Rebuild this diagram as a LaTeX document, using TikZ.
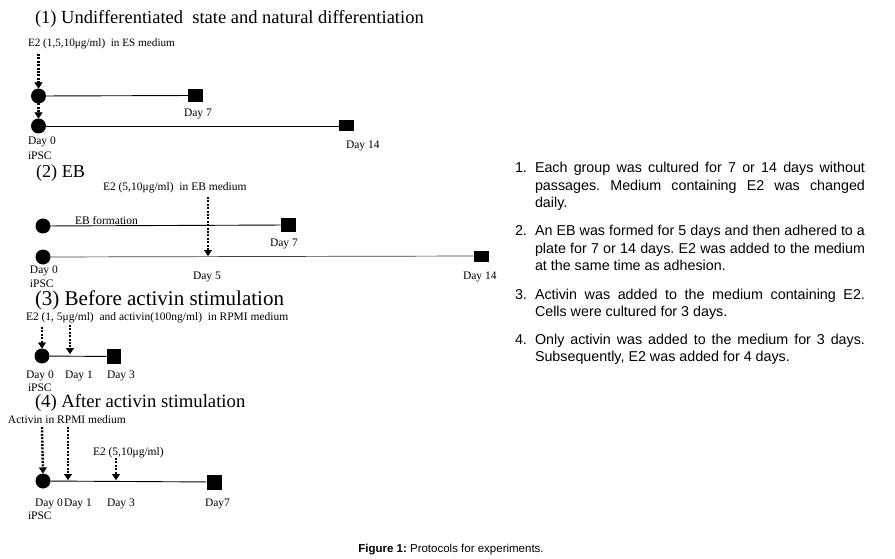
\documentclass[tikz,border=0pt]{standalone}
\usepackage{fontspec}
\setmainfont{Liberation Serif}
\newfontfamily\arialf{Liberation Sans}
\usetikzlibrary{arrows.meta}
\frenchspacing
\begin{document}
\begin{tikzpicture}[x=1pt,y=-1pt,
  every node/.style={inner sep=0pt, outer sep=0pt},
  lbl/.style={anchor=base west, font=\fontsize{11.5}{13}\selectfont},
  ttl/.style={anchor=base west},
  dot/.style={circle, fill=black, minimum size=15pt},
  endsq/.style={rectangle, fill=black, minimum width=15pt, minimum height=13pt},
  endsqb/.style={rectangle, fill=black, minimum width=15pt, minimum height=11pt},
  tline/.style={line width=0.9pt},
  tlinegray/.style={line width=0.7pt, black!75},
  darr/.style={line width=2.4pt, dash pattern=on 2pt off 1.4pt, -{Triangle[width=8pt,length=6pt,line width=0.4pt]}},
  item/.style={anchor=base west, text width=330pt, align=justify, font=\arialf\fontsize{14.3}{17.3}\selectfont},
  num/.style={anchor=base west, font=\arialf\fontsize{14.3}{17.3}\selectfont},
]
\fill[white] (0,0) rectangle (895,559);
\useasboundingbox (0,0) rectangle (895,559);

% ---------- Section 1
\node[ttl, font=\fontsize{18.5}{20}\selectfont] (t1) at (35,24) {(1) Undifferentiated~ state and natural differentiation};
\node[lbl, font=\fontsize{11.2}{13}\selectfont] (l1) at (28,47) {E2 (1,5,10μg/ml)~ in ES medium};
\coordinate (a1) at (38.5,54);
\node[dot] (c1a) at (38.5,96) {};
\node[endsq] (s1a) at (195.5,95.5) {};
\node[dot] (c1b) at (38.5,126) {};
\node[endsqb] (s1b) at (346,126) {};
\draw[tline] (c1a) -- (s1a);
\draw[tline] (c1b) -- (s1b);
\draw[darr] (a1) -- (c1a.north);
\draw[darr] (c1a.south) -- (c1b.north);
\node[lbl] (d1a) at (184,117) {Day 7};
\node[lbl] (d1b) at (28,145) {Day 0};
\node[lbl] (d1c) at (346,149) {Day 14};
\node[lbl] (p1) at (28,160) {iPSC};

% ---------- Section 2
\node[ttl, font=\fontsize{18.2}{20}\selectfont] (t2) at (36,178) {(2) EB};
\node[lbl] (l2) at (103,191) {E2 (5,10μg/ml)~ in EB medium};
\coordinate (a2) at (208,197);
\node[dot] (c2a) at (43,226) {};
\node[endsq] (s2a) at (288,225) {};
\node[dot] (c2b) at (43,257) {};
\node[endsqb] (s2b) at (481,256) {};
\coordinate (d5) at (208,256);
\draw[tline] (c2a) -- (s2a);
\draw[tlinegray] (c2b) -- (s2b);
\draw[darr] (a2) -- (d5);
\node[lbl] (eb) at (75,225) {EB formation};
\node[lbl] (d2a) at (270,247) {Day 7};
\node[lbl] (d2b) at (30,273) {Day 0};
\node[lbl] (d2c) at (193,279) {Day 5};
\node[lbl] (d2d) at (463,279) {Day 14};
\node[lbl] (p2) at (30,287) {iPSC};

% ---------- Section 3
\node[ttl, font=\fontsize{21}{23}\selectfont] (t3) at (35,305) {(3) Before activin stimulation};
\node[lbl] (l3) at (26,320) {E2 (1, 5μg/ml)~ and activin(100ng/ml)~ in RPMI medium};
\coordinate (a3a) at (42,327);
\coordinate (a3b) at (70,325);
\node[dot] (c3) at (42,356) {};
\node[endsq, minimum height=15pt, minimum width=14pt] (s3) at (113.5,356.5) {};
\coordinate (e3) at (70,354);
\draw[tline] (c3) -- (s3);
\draw[darr] (a3a) -- (c3.north);
\draw[darr] (a3b) -- (e3);
\node[lbl] (d3a) at (26,378) {Day 0};
\node[lbl] (d3b) at (65,378) {Day 1};
\node[lbl] (d3c) at (107,378) {Day 3};
\node[lbl] (p3) at (28,391) {iPSC};

% ---------- Section 4
\node[ttl, font=\fontsize{18.7}{20}\selectfont] (t4) at (35,407) {(4) After activin stimulation};
\node[lbl] (l4) at (8,423) {Activin in RPMI medium};
\node[lbl] (l5) at (93,455) {E2 (5,10μg/ml)};
\coordinate (a4a) at (42,427);
\coordinate (a4b) at (68,427);
\coordinate (a4c) at (116,458);
\node[dot] (c4) at (43,481) {};
\node[endsq, minimum height=15pt, minimum width=15pt] (s4) at (214,482) {};
\coordinate (e4b) at (68,480);
\coordinate (e4c) at (116,480);
\draw[tline] (c4) -- (s4);
\draw[darr] (a4a) -- (c4.north);
\draw[darr] (a4b) -- (e4b);
\draw[darr] (a4c) -- (e4c);
\node[lbl] (d4a) at (35,506) {Day 0};
\node[lbl] (d4b) at (64,506) {Day 1};
\node[lbl] (d4c) at (107,506) {Day 3};
\node[lbl] (d4d) at (205,506) {Day7};
\node[lbl] (p4) at (28,519) {iPSC};

% ---------- Right-hand notes
\node[num] (n1) at (515,173) {1.};
\node[item] (i1) at (535,173) {Each group was cultured for 7 or 14 days without\linebreak passages. Medium containing E2 was changed\linebreak daily.};
\node[num] (n2) at (515,236) {2.};
\node[item] (i2) at (535,236) {An EB was formed for 5 days and then adhered to a\linebreak plate for 7 or 14 days. E2 was added to the medium\linebreak at the same time as adhesion.};
\node[num] (n3) at (515,299) {3.};
\node[item] (i3) at (535,299) {Activin was added to the medium containing E2.\linebreak Cells were cultured for 3 days.};
\node[num] (n4) at (515,344) {4.};
\node[item] (i4) at (535,344) {Only activin was added to the medium for 3 days.\linebreak Subsequently, E2 was added for 4 days.};

% ---------- Caption
\node[anchor=base, font=\arialf\fontsize{11.5}{13}\selectfont] (cap) at (451,552) {\textbf{Figure 1:} Protocols for experiments.};
\end{tikzpicture}
\end{document}
